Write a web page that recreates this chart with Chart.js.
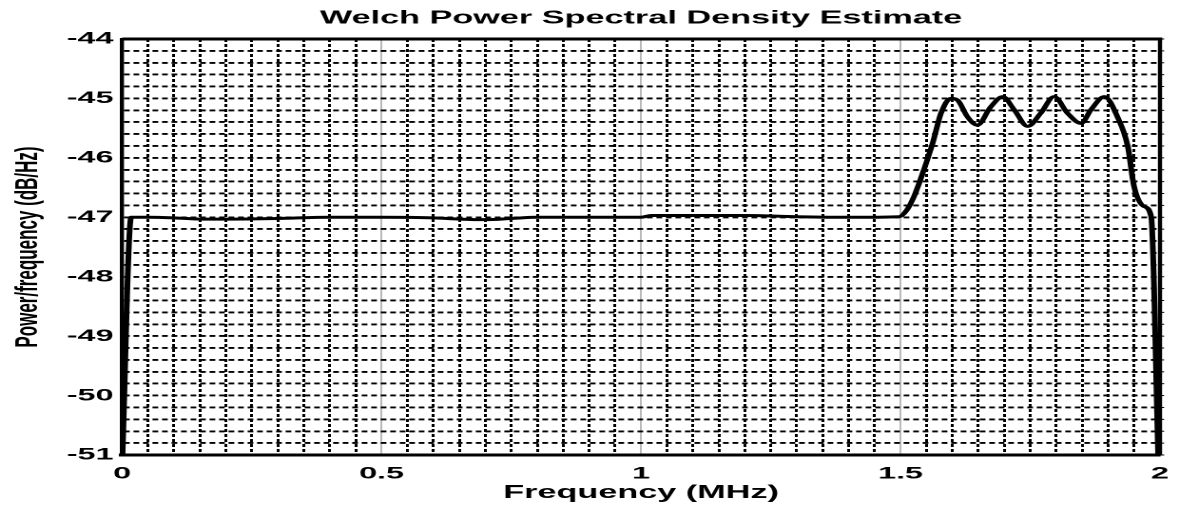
<!DOCTYPE html>
<html>
<head>
<meta charset="utf-8">
<script src="https://cdn.jsdelivr.net/npm/chart.js@4.4.0/dist/chart.umd.min.js"></script>
<style>
  html, body { margin: 0; padding: 0; background: #fff; overflow: hidden; }
  /* the reference figure is stretched sideways, so draw narrow and stretch the canvas */
  #psd { display: block; transform: scale(1.9016, 1); transform-origin: 0 0; }
</style>
</head>
<body>
<canvas id="psd" width="620" height="508"></canvas>
<script>
// Values
const freqMHz = [
  0, 0.0175, 0.05, 0.1, 0.15, 0.2, 0.3, 0.4, 0.5, 0.6, 0.65, 0.7, 0.75, 0.8,
  0.9, 1.0, 1.02, 1.1, 1.2, 1.3, 1.4, 1.497,
  1.512, 1.526, 1.545, 1.562, 1.578, 1.597, 1.61, 1.629, 1.648, 1.674, 1.697,
  1.719, 1.745, 1.77, 1.796, 1.822, 1.848, 1.867, 1.893, 1.918, 1.938, 1.95,
  1.97, 1.983, 1.997
]
const powerDb = [
  -51.2, -47.0, -47.0, -47.01, -47.03, -47.03, -47.02, -47.0, -47.0, -47.01, -47.03, -47.04, -47.02, -47.0,
  -47.0, -47.0, -46.97, -46.97, -46.97, -46.99, -47.0, -46.99,
  -46.88, -46.65, -46.2, -45.75, -45.25, -45.0, -45.03, -45.31, -45.45, -45.14, -44.97,
  -45.19, -45.47, -45.25, -44.97, -45.25, -45.42, -45.19, -44.97, -45.31, -45.81, -46.48,
  -46.82, -46.99, -51.2
]

// Labelled ticks (minor grid lines fall in between)
const xLabelTicks = [0, 0.5, 1, 1.5, 2]
const yLabelTicks = [-51, -50, -49, -48, -47, -46, -45, -44]

const fontFamily = "'Liberation Sans', Arial, sans-serif"

function isLabelled(list, v) {
  return list.some(t => Math.abs(t - v) < 1e-6)
}

// Top and right edges of the box, plus small outside ticks on the right
const frame = {
  id: 'frame',
  afterDatasetsDraw(chart) {
    const { ctx, chartArea: a } = chart
    ctx.save()
    ctx.strokeStyle = '#000'
    ctx.lineWidth = 3
    ctx.beginPath()
    ctx.moveTo(a.left, a.top)
    ctx.lineTo(a.right + 1.1, a.top)
    ctx.stroke()
    ctx.lineWidth = 2.2
    ctx.beginPath()
    ctx.moveTo(a.right, a.top - 1.5)
    ctx.lineTo(a.right, a.bottom)
    ctx.stroke()
    ctx.lineWidth = 1
    chart.scales.y.ticks.forEach(t => {
      const y = chart.scales.y.getPixelForValue(t.value)
      ctx.beginPath()
      ctx.moveTo(a.right, y)
      ctx.lineTo(a.right + 2.2, y)
      ctx.stroke()
    })
    ctx.restore()
  }
}

const ctx = document.getElementById('psd').getContext('2d')

new Chart(ctx, {
  type: 'line',
  data: {
    datasets: [
      {
        data: freqMHz.map((f, i) => ({ x: f, y: powerDb[i] })),
        borderColor: '#000',
        borderWidth: 3,
        pointRadius: 0,
        cubicInterpolationMode: 'monotone',
        fill: false
      }
    ]
  },
  options: {
    responsive: false,
    animation: false,
    devicePixelRatio: 2,
    layout: { padding: { left: 0, right: 10, top: 0, bottom: 0 } },
    plugins: {
      legend: { display: false },
      tooltip: { enabled: false },
      title: {
        display: true,
        fullSize: false,
        text: 'Welch Power Spectral Density Estimate',
        color: '#000',
        font: { family: fontFamily, size: 18, weight: 'bold' },
        padding: { top: 7.5, bottom: 9.9 }
      }
    },
    scales: {
      x: {
        type: 'linear',
        min: 0,
        max: 2,
        afterFit: scale => { scale.height = 53 },
        ticks: {
          stepSize: 0.05,
          maxTicksLimit: 100,
          autoSkip: false,
          maxRotation: 0,
          padding: 5,
          color: '#000',
          font: { family: fontFamily, size: 17, weight: 'bold', lineHeight: 1.6 },
          callback: v => (isLabelled(xLabelTicks, v) ? String(v) : '')
        },
        grid: {
          drawTicks: false,
          color: c => (c.tick && isLabelled(xLabelTicks, c.tick.value) ? '#8a8a8a' : '#000'),
          lineWidth: c => (c.tick && isLabelled(xLabelTicks, c.tick.value) ? 0.6 : 1.5)
        },
        border: {
          display: true,
          color: '#000',
          width: 3,
          dash: c => (c.tick && isLabelled(xLabelTicks, c.tick.value) ? [] : [3, 2])
        },
        title: {
          display: true,
          text: 'Frequency (MHz)',
          color: '#000',
          font: { family: fontFamily, size: 18, weight: 'bold' },
          padding: { top: 0, bottom: 4.2 }
        }
      },
      y: {
        type: 'linear',
        min: -51,
        max: -44,
        afterFit: scale => { scale.width = 64.2 },
        ticks: {
          stepSize: 0.2,
          maxTicksLimit: 100,
          autoSkip: false,
          padding: 4.5,
          color: '#000',
          font: { family: fontFamily, size: 17, weight: 'bold' },
          callback: v => (isLabelled(yLabelTicks, v) ? String(v) : '')
        },
        grid: {
          drawTicks: false,
          color: '#000',
          lineWidth: 1.9
        },
        border: {
          display: true,
          color: '#000',
          width: 2.2,
          dash: [3, 2]
        },
        title: {
          display: true,
          text: 'Power/frequency (dB/Hz)',
          color: '#000',
          font: { family: fontFamily, size: 17, weight: 'bold' },
          padding: { top: 4.5, bottom: 0 }
        }
      }
    }
  },
  plugins: [frame]
})
</script>
</body>
</html>
